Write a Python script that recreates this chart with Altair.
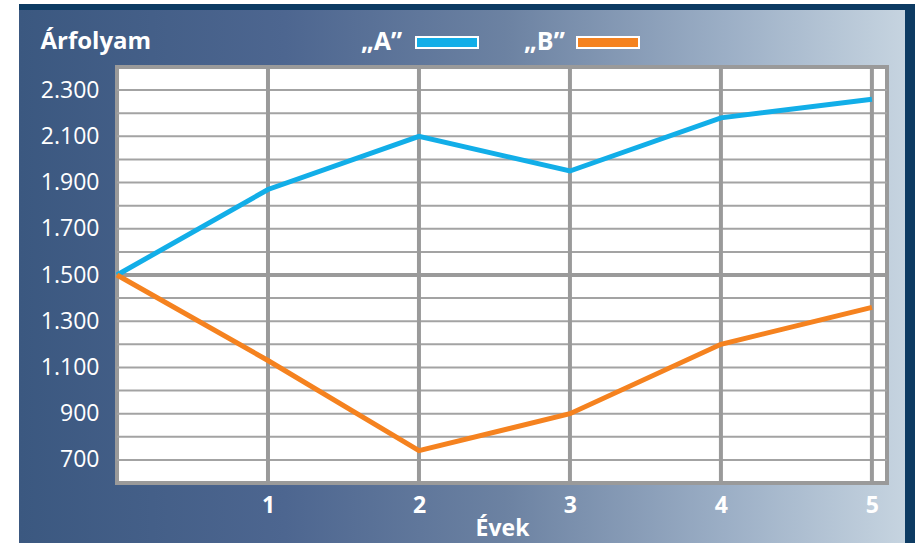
import altair as alt
import pandas as pd

years = [0, 1, 2, 3, 4, 5]
series_a = [1500, 1870, 2100, 1950, 2180, 2260]
series_b = [1500, 1130, 740, 900, 1200, 1360]
series_names = ["„A”", "„B”"]
series_colors = ["#12aee8", "#f5821f"]

y_ticks = [700, 900, 1100, 1300, 1500, 1700, 1900, 2100, 2300]
y_minor = [700, 800, 900, 1000, 1100, 1200, 1300, 1400, 1500, 1600, 1700,
           1800, 1900, 2000, 2100, 2200, 2300]
y_major = [1500]
x_ticks = [1, 2, 3, 4, 5]

W, H = 770, 416
FONT = "Open Sans"

df = pd.DataFrame({
    "year": years * 2,
    "value": series_a + series_b,
    "series": [series_names[0]] * len(years) + [series_names[1]] * len(years),
})

xs = alt.Scale(domain=[0, 5.1], nice=False, zero=False)
ys = alt.Scale(domain=[600, 2400], nice=False, zero=False)

x_axis = alt.Axis(
    values=x_ticks, title="Évek", grid=False, domain=False, ticks=False,
    labelColor="white", labelFont=FONT, labelFontSize=23, labelFontWeight="bold",
    labelPadding=11, labelAlign="center",
    titleColor="white", titleFont=FONT, titleFontSize=23, titleFontWeight="bold",
    titleX=385, titleY=52, titleBaseline="alphabetic", titleAlign="center",
    zindex=1)
y_axis = alt.Axis(
    values=y_ticks, title="Árfolyam", grid=False, domain=False, ticks=False,
    labelExpr="replace(format(datum.value, ','), ',', '.')",
    labelColor="white", labelFont=FONT, labelFontSize=23, labelPadding=18,
    titleColor="white", titleFont=FONT, titleFontSize=24, titleFontWeight="bold",
    titleAngle=0, titleAlign="left", titleBaseline="alphabetic",
    titleX=-77, titleY=-19, zindex=1)

one = pd.DataFrame({"k": [0]})

bg = alt.Chart(one).mark_rect(
    fill=alt.Gradient(
        gradient="linear", x1=0, x2=1, y1=0, y2=0,
        stops=[
            alt.GradientStop(offset=0, color="#3b5880"),
            alt.GradientStop(offset=0.3, color="#4d6690"),
            alt.GradientStop(offset=0.55, color="#6c82a2"),
            alt.GradientStop(offset=0.8, color="#9cafc6"),
            alt.GradientStop(offset=1, color="#c6d4e0"),
        ],
    )
).encode(x=alt.value(-98), x2=alt.value(788), y=alt.value(-57), y2=alt.value(480))

top_band = alt.Chart(one).mark_rect(color="#0d3b63").encode(
    x=alt.value(-98), x2=alt.value(798), y=alt.value(-63), y2=alt.value(-57))
right_band = alt.Chart(one).mark_rect(color="#0d3b63").encode(
    x=alt.value(788), x2=alt.value(798), y=alt.value(-63), y2=alt.value(480))

plot_bg = alt.Chart(one).mark_rect(fill="white", stroke="#9a9a9a", strokeWidth=4).encode(
    x=alt.value(0), x2=alt.value(W), y=alt.value(0), y2=alt.value(H))

minor = alt.Chart(pd.DataFrame({"v": y_minor})).mark_rule(color="#a3a3a3", strokeWidth=2).encode(
    y=alt.Y("v:Q", scale=ys, axis=y_axis, title="Árfolyam"))
major = alt.Chart(pd.DataFrame({"v": y_major})).mark_rule(color="#9a9a9a", strokeWidth=4).encode(
    y=alt.Y("v:Q", scale=ys, axis=y_axis, title="Árfolyam"))
vert = alt.Chart(pd.DataFrame({"v": x_ticks})).mark_rule(color="#9a9a9a", strokeWidth=4).encode(
    x=alt.X("v:Q", scale=xs, axis=x_axis, title="Évek"))

lines = alt.Chart(df).mark_line(strokeWidth=5).encode(
    x=alt.X("year:Q", scale=xs, axis=x_axis, title="Évek"),
    y=alt.Y("value:Q", scale=ys, axis=y_axis, title="Árfolyam"),
    color=alt.Color("series:N", scale=alt.Scale(domain=series_names, range=series_colors), legend=None),
    detail="series:N",
)

def legend_item(name, color, tx, sx):
    t = alt.Chart(one).mark_text(
        text=name, color="white", font=FONT, fontSize=25, fontWeight="bold",
        align="left", baseline="alphabetic").encode(x=alt.value(tx), y=alt.value(-17))
    r = alt.Chart(one).mark_rect(fill=color, stroke="white", strokeWidth=2).encode(
        x=alt.value(sx), x2=alt.value(sx + 62), y=alt.value(-30), y2=alt.value(-19))
    return t + r

leg_a = legend_item(series_names[0], series_colors[0], 244, 299)
leg_b = legend_item(series_names[1], series_colors[1], 407, 460)

chart = alt.layer(
    bg, top_band, right_band, plot_bg, minor, major, vert, lines, leg_a, leg_b
).properties(
    width=W, height=H,
    autosize=alt.AutoSizeParams(type="none"),
    padding={"left": 117, "top": 67, "right": 28, "bottom": 60},
    background="white",
).configure_view(strokeWidth=0)

chart.save("out.html", embed_options={"renderer": "svg", "actions": False})
